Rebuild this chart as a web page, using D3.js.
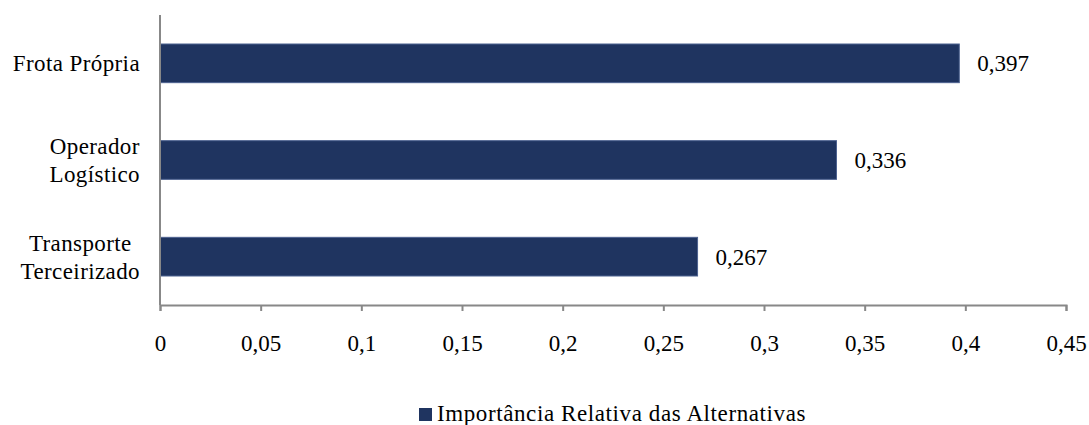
<!DOCTYPE html>
<html>
<head>
<meta charset="utf-8">
<script src="https://cdn.jsdelivr.net/npm/d3@7"></script>
<style>
  body { margin: 0; background: #fff; }
  svg { display: block; }
  svg text { font-family: "Liberation Serif", "Times New Roman", serif; }
</style>
</head>
<body>
<svg id="chart"></svg>
<script>
const categories = [["Frota Própria"], ["Operador", "Logístico"], ["Transporte", "Terceirizado"]];
const values = [0.397, 0.336, 0.267];
const valueLabels = ["0,397", "0,336", "0,267"];
const xTicks = [0, 0.05, 0.1, 0.15, 0.2, 0.25, 0.3, 0.35, 0.4, 0.45];
const seriesName = "Importância Relativa das Alternativas";

const width = 1089, height = 425;
const margin = { top: 15, right: 23, bottom: 120, left: 160 };
const innerWidth = width - margin.left - margin.right;
const innerHeight = height - margin.top - margin.bottom;
const barColor = "#1f3460";
const fontSize = 23;

const svg = d3.select("#chart").attr("width", width).attr("height", height);
const g = svg.append("g").attr("transform", `translate(${margin.left},${margin.top})`);

const x = d3.scaleLinear().domain([0, 0.45]).range([0, innerWidth]);
const y = d3.scaleBand().domain(d3.range(values.length)).range([0, innerHeight]).paddingInner(0.6).paddingOuter(0.3);

// bars
g.selectAll(".bar")
  .data(values)
  .enter()
  .append("rect")
  .attr("class", "bar")
  .attr("x", 0)
  .attr("y", (d, i) => y(i))
  .attr("width", d => x(d))
  .attr("height", y.bandwidth())
  .attr("fill", barColor)
  .attr("stroke", "#4d6290")
  .attr("stroke-width", 1);

// value labels
g.selectAll(".val")
  .data(values)
  .enter()
  .append("text")
  .attr("x", d => x(d) + 18)
  .attr("y", (d, i) => y(i) + y.bandwidth() / 2 + 8)
  .attr("font-size", fontSize)
  .attr("fill", "#000")
  .text((d, i) => valueLabels[i]);

// x axis
const xAxis = g.append("g")
  .attr("transform", `translate(0,${innerHeight})`)
  .call(d3.axisBottom(x).tickValues(xTicks).tickSize(6).tickPadding(24)
    .tickFormat(d => String(d).replace(".", ",")));
xAxis.select(".domain").attr("stroke", "#888").attr("stroke-width", 2);
xAxis.selectAll(".tick line").attr("stroke", "#888").attr("stroke-width", 2);
xAxis.selectAll(".tick text")
  .attr("font-size", fontSize)
  .attr("fill", "#000");

// y axis line
g.append("line")
  .attr("x1", 0).attr("x2", 0)
  .attr("y1", 0).attr("y2", innerHeight)
  .attr("stroke", "#888").attr("stroke-width", 2);

// category labels (multi-line, centred block, right aligned to axis)
const labelRight = -20;
const lineH = 28;
categories.forEach((lines, i) => {
  const cy = y(i) + y.bandwidth() / 2;
  const t = g.append("text")
    .attr("font-size", fontSize)
    .attr("letter-spacing", 0.4)
    .attr("fill", "#000")
    .attr("text-anchor", "middle");
  lines.forEach((ln, j) => {
    t.append("tspan")
      .attr("y", cy + 8 + (j - (lines.length - 1) / 2) * lineH)
      .text(ln);
  });
  const w = d3.max(t.selectAll("tspan").nodes(), n => n.getComputedTextLength());
  t.selectAll("tspan").attr("x", labelRight - w / 2);
});

// legend
const legend = svg.append("g").attr("transform", "translate(419,408)");
legend.append("rect").attr("width", 13).attr("height", 13).attr("fill", barColor);
legend.append("text")
  .attr("x", 18).attr("y", 13)
  .attr("font-size", fontSize)
  .attr("letter-spacing", 0.6)
  .attr("fill", "#000")
  .text(seriesName);
</script>
</body>
</html>
